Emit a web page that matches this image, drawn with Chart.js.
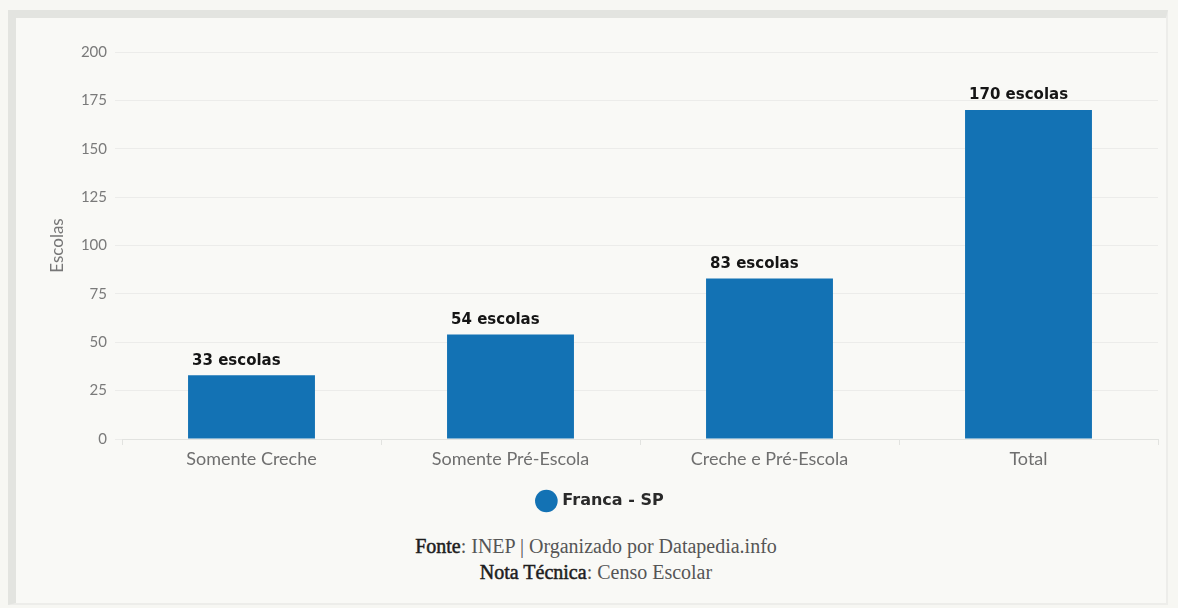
<!DOCTYPE html>
<html>
<head>
<meta charset="utf-8">
<script src="https://cdn.jsdelivr.net/npm/chart.js@4.4.0/dist/chart.umd.min.js"></script>
<style>
  html, body { margin: 0; padding: 0; background: #f7f7f3; }
  body { width: 1178px; height: 608px; position: relative; overflow: hidden; }
  .frame {
    position: absolute; left: 8px; top: 10px; width: 1150px; height: 585px;
    border-left: 8px solid #e3e4e0; border-top: 8px solid #e3e4e0;
    border-right: 2px solid #ededea; border-bottom: 2px solid #ededea;
    background: #f9f9f6;
  }
  #wrap { position: absolute; left: 0; top: 0; width: 1178px; height: 525px; }
  .fonte {
    position: absolute; left: 0; width: 1192px; text-align: center;
    font-family: "Liberation Serif", "DejaVu Serif", serif; font-size: 20px; color: #555;
  }
  .fonte b { color: #1e1e1e; font-weight: normal; -webkit-text-stroke: 0.5px #1e1e1e; }
</style>
</head>
<body>
<div class="frame"></div>
<div id="wrap"><canvas id="escolasChart"></canvas></div>
<div class="fonte" style="top:535px"><b>Fonte</b>: INEP | Organizado por Datapedia.info</div>
<div class="fonte" style="top:561px"><b>Nota Técnica</b>: Censo Escolar</div>
<script>
const categorias = ['Somente Creche', 'Somente Pré-Escola', 'Creche e Pré-Escola', 'Total'];
const escolas = [33, 54, 83, 170];
const serieNome = 'Franca - SP';
const yTicks = [0, 25, 50, 75, 100, 125, 150, 175, 200];

const fonte = 'Lato, "Noto Sans", sans-serif';
const fonteNegrito = '"DejaVu Sans", Lato, sans-serif';

const rotulosBarras = {
  id: 'rotulosBarras',
  afterDatasetsDraw(chart) {
    const c = chart.ctx;
    const meta = chart.getDatasetMeta(0);
    c.save();
    c.font = 'bold 15px ' + fonteNegrito;
    c.fillStyle = '#151515';
    c.textAlign = 'left';
    c.textBaseline = 'bottom';
    meta.data.forEach(function(bar, i) {
      c.fillText(escolas[i] + ' escolas', bar.x - bar.width / 2 + 4, bar.y - 7);
    });
    c.restore();
  }
};

// legenda um pouco deslocada para a direita, como no original
const moveLegenda = {
  id: 'moveLegenda',
  afterLayout(chart) {
    chart.legend.left += 22;
    chart.legend.right += 22;
  }
};

const ctx = document.getElementById('escolasChart').getContext('2d');
const escolasChart = new Chart(ctx, {
  type: 'bar',
  data: {
    labels: categorias,
    datasets: [{
      label: serieNome,
      data: escolas,
      backgroundColor: '#1372b4',
      borderColor: '#1372b4',
      borderWidth: 0,
      categoryPercentage: 0.98,
      barPercentage: 0.5
    }]
  },
  options: {
    responsive: true,
    maintainAspectRatio: false,
    animation: false,
    layout: { padding: { top: 52, right: 20, left: 0, bottom: 6 } },
    scales: {
      x: {
        grid: { display: true, drawOnChartArea: false, color: '#e2e3e0', tickLength: 6, offset: true },
        border: { color: '#e2e3e0' },
        ticks: { color: '#6f6f6f', font: { family: fonte, size: 18 }, padding: 3 },
        afterFit: function(scale) { scale.height = 44; }
      },
      y: {
        min: 0,
        max: 200,
        afterBuildTicks: function(scale) {
          scale.ticks = yTicks.map(function(v) { return { value: v }; });
        },
        grid: { color: '#ececea', tickLength: 7 },
        border: { display: false },
        ticks: { color: '#7a7a7a', font: { family: fonte, size: 15 }, padding: 8 },
        title: { display: true, text: 'Escolas', color: '#777', font: { family: fonte, size: 17 }, padding: { top: 47, bottom: 0 } },
        afterFit: function(scale) { scale.width = 122; }
      }
    },
    plugins: {
      legend: {
        position: 'bottom',
        labels: {
          usePointStyle: true,
          pointStyle: 'circle',
          boxWidth: 16,
          boxHeight: 16,
          color: '#2a2a2a',
          font: { family: fonteNegrito, size: 16, weight: 'bold' },
          padding: 10
        }
      },
      tooltip: { enabled: false }
    }
  },
  plugins: [rotulosBarras, moveLegenda]
});
</script>
</body>
</html>
